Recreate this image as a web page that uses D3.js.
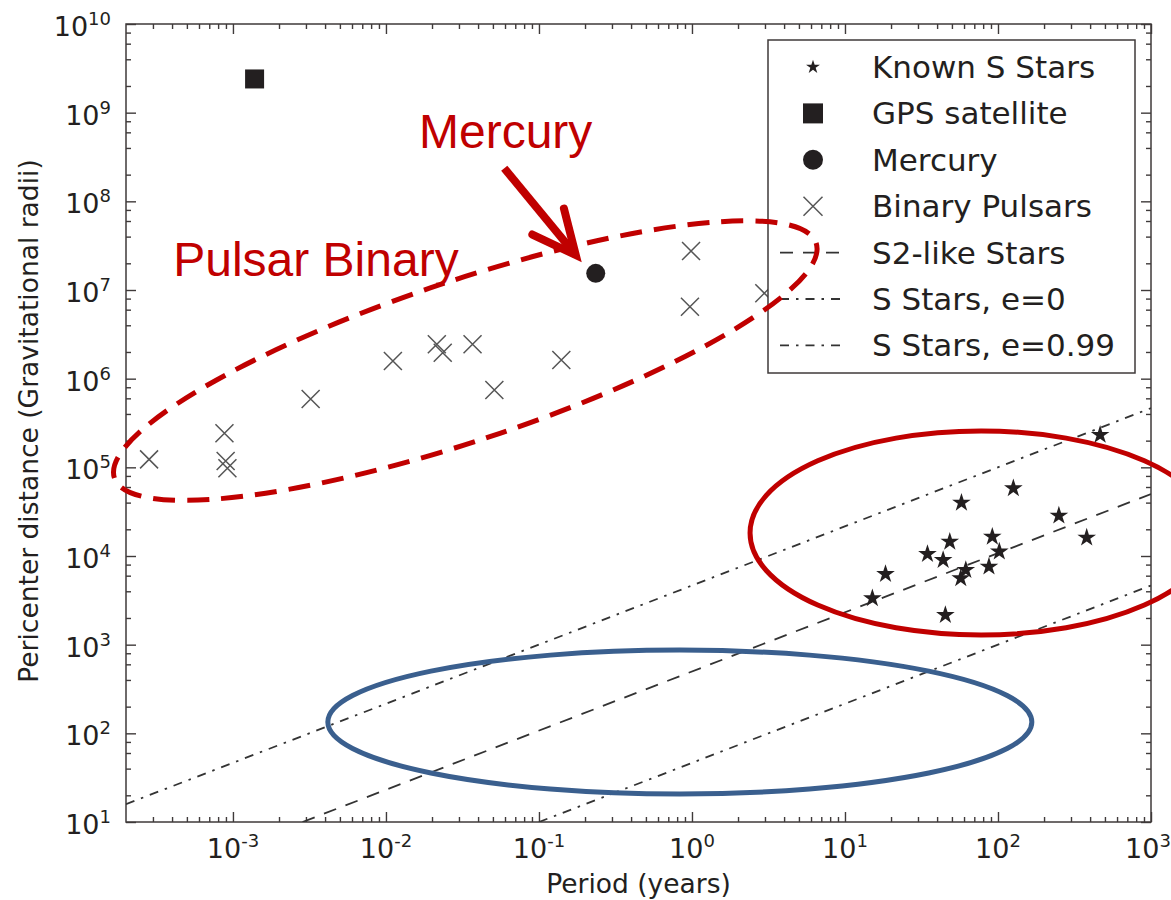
<!DOCTYPE html>
<html>
<head>
<meta charset="utf-8">
<script src="https://cdn.jsdelivr.net/npm/d3@7/dist/d3.min.js"></script>
<style>
  body { margin: 0; background: #fff; }
  svg { display: block; }
  text { font-family: 'DejaVu Sans', sans-serif; fill: #231f20; }
  text.note { font-family: 'Liberation Sans', Arial, sans-serif; fill: #c00000; }
</style>
</head>
<body>
<svg width="1171" height="900"></svg>
<script>
// period (years), pericenter distance (gravitational radii)
const sStars = [
  [465, 2.32e5], [126, 5.8e4], [57.7, 3.99e4], [250, 2.85e4], [380, 1.61e4],
  [91.8, 1.65e4], [48.4, 1.45e4], [34.6, 1.05e4], [102, 1.12e4], [43.8, 9.0e3],
  [61.6, 6.96e3], [87.3, 7.58e3], [57.1, 5.61e3], [18.4, 6.27e3], [15.1, 3.33e3],
  [45.3, 2.16e3],
];
const gpsSatellite = [[1.385e-3, 2.4e9]];
const mercury = [[0.235, 1.54e7]];
const binaryPulsars = [
  [2.83e-4, 1.23e5], [8.8e-4, 2.42e5], [8.96e-4, 1.18e5], [9.2e-4, 9.76e4],
  [3.22e-3, 5.9e5], [0.0111, 1.58e6], [0.0215, 2.44e6], [0.0235, 1.96e6],
  [0.0368, 2.44e6], [0.0511, 7.45e5], [0.140, 1.62e6], [0.986, 2.75e7],
  [0.97, 6.48e6], [2.97, 9.2e6],
];
// end points of the reference lines
const s2Line = [[2.85e-3, 10], [1000, 5.0e4]];
const circularLine = [[2e-4, 15.9], [1000, 4.65e5]];
const eccentricLine = [[0.1, 10], [1000, 4.65e3]];

const xTickExps = [-3, -2, -1, 0, 1, 2, 3];
const yTickExps = [1, 2, 3, 4, 5, 6, 7, 8, 9, 10];
const legendLabels = ['Known S Stars', 'GPS satellite', 'Mercury', 'Binary Pulsars',
  'S2-like Stars', 'S Stars, e=0', 'S Stars, e=0.99'];

// hand drawn highlights, anchored in data space
const pulsarOval = { centre: [0.033, 1.6e6], rx: 370, ry: 80, tilt: -18.5 };
const sStarOval = { centre: [77.5, 1.82e4], rx: 231, ry: 102, tilt: 0 };
const blueOval = { centre: [0.833, 134], rx: 352, ry: 72, tilt: 0 };
const mercuryArrow = [[0.0593, 2.36e8], [0.174, 2.48e7]];
const mercuryLabel = [0.01644, 4.0e8];
const pulsarLabel = [4.07e-4, 1.44e7];

const svg = d3.select('svg');
const plotL = 126, plotR = 1151, plotT = 24, plotB = 822;
const ink = '#3f3a3a';

const x = d3.scaleLog().domain([2e-4, 1e3]).range([plotL, plotR]);
const y = d3.scaleLog().domain([10, 1e10]).range([plotB, plotT]);

// tick values: all subs on x, even subs on y (matplotlib style)
const xMajor = xTickExps.map((e) => 10 ** e);
const xMinor = [];
for (let e = -4; e < 3; e++) {
  for (let m = 2; m <= 9; m++) {
    const v = m * 10 ** e;
    if (v > 2e-4 && v < 1e3) xMinor.push(v);
  }
}
const yMajor = yTickExps.map((e) => 10 ** e);
const yMinor = [];
for (let e = 1; e < 10; e++) {
  [2, 4, 6, 8].forEach((m) => yMinor.push(m * 10 ** e));
}

function tickAxis(axis, values, size, tx, ty) {
  const g = svg.append('g')
    .attr('transform', `translate(${tx},${ty})`)
    .call(axis.tickValues(values).tickSize(-size).tickSizeOuter(0).tickFormat(''));
  g.select('.domain').remove();
  g.selectAll('line').attr('stroke', ink).attr('stroke-width', 1.4);
}
tickAxis(d3.axisBottom(x), xMajor, 10, 0, plotB);
tickAxis(d3.axisBottom(x), xMinor, 5, 0, plotB);
tickAxis(d3.axisTop(x), xMajor, 10, 0, plotT);
tickAxis(d3.axisTop(x), xMinor, 5, 0, plotT);
tickAxis(d3.axisLeft(y), yMajor, 10, plotL, 0);
tickAxis(d3.axisLeft(y), yMinor, 5, plotL, 0);
tickAxis(d3.axisRight(y), yMajor, 10, plotR, 0);
tickAxis(d3.axisRight(y), yMinor, 5, plotR, 0);

svg.append('rect')
  .attr('x', plotL).attr('y', plotT)
  .attr('width', plotR - plotL).attr('height', plotB - plotT)
  .attr('fill', 'none').attr('stroke', ink).attr('stroke-width', 1.5);

// tick labels as 10^n
function powerLabel(sel, e) {
  sel.append('tspan').text('10');
  sel.append('tspan').attr('dy', -11).attr('font-size', 18).text(e);
}
xTickExps.forEach((e) => {
  svg.append('text')
    .attr('x', x(10 ** e) - (e === 3 ? 3 : 0)).attr('y', plotB + 36)
    .attr('text-anchor', 'middle').attr('font-size', 27)
    .call(powerLabel, e);
});
yTickExps.forEach((e) => {
  svg.append('text')
    .attr('x', plotL - 15).attr('y', y(10 ** e) + 12)
    .attr('text-anchor', 'end').attr('font-size', 27)
    .call(powerLabel, e);
});

svg.append('text')
  .attr('x', (plotL + plotR) / 2).attr('y', 893)
  .attr('text-anchor', 'middle').attr('font-size', 26.5)
  .text('Period (years)');
svg.append('text')
  .attr('transform', 'rotate(-90)')
  .attr('x', -(plotT + plotB) / 2 + 2).attr('y', 38)
  .attr('text-anchor', 'middle').attr('font-size', 26.5)
  .text('Pericenter distance (Gravitational radii)');

// reference lines
svg.append('clipPath').attr('id', 'plotArea')
  .append('rect')
  .attr('x', plotL).attr('y', plotT)
  .attr('width', plotR - plotL).attr('height', plotB - plotT);

const line = d3.line().x((d) => x(d[0])).y((d) => y(d[1]));
const dashS2 = '13,10';
const dashDot = '9,7,2.5,7';
[[s2Line, dashS2], [circularLine, dashDot], [eccentricLine, dashDot]].forEach(([pts, dash]) => {
  svg.append('path')
    .attr('d', line(pts))
    .attr('clip-path', 'url(#plotArea)')
    .attr('fill', 'none')
    .attr('stroke', '#333')
    .attr('stroke-width', 1.8)
    .attr('stroke-dasharray', dash);
});

// markers
const markerInk = '#231f20';
const star = d3.symbol(d3.symbolStar, 108);
svg.append('g').selectAll('path')
  .data(sStars)
  .enter()
  .append('path')
  .attr('d', star)
  .attr('transform', (d) => `translate(${x(d[0])},${y(d[1])})`)
  .attr('fill', markerInk);

svg.append('g').selectAll('rect')
  .data(gpsSatellite)
  .enter()
  .append('rect')
  .attr('x', (d) => x(d[0]) - 9.5)
  .attr('y', (d) => y(d[1]) - 9.5)
  .attr('width', 19).attr('height', 19)
  .attr('fill', markerInk);

svg.append('g').selectAll('circle')
  .data(mercury)
  .enter()
  .append('circle')
  .attr('cx', (d) => x(d[0]))
  .attr('cy', (d) => y(d[1]))
  .attr('r', 9.5)
  .attr('fill', markerInk);

const cross = (h) => `M${-h},${-h}L${h},${h}M${-h},${h}L${h},${-h}`;
svg.append('g').selectAll('path')
  .data(binaryPulsars)
  .enter()
  .append('path')
  .attr('d', cross(9))
  .attr('transform', (d) => `translate(${x(d[0])},${y(d[1])})`)
  .attr('fill', 'none')
  .attr('stroke', '#555')
  .attr('stroke-width', 1.5);

// legend
const legend = svg.append('g').attr('transform', 'translate(768,40)');
legend.append('rect')
  .attr('width', 367).attr('height', 333)
  .attr('fill', '#fff').attr('stroke', ink).attr('stroke-width', 1.5);

const rowY = (i) => 27 + i * 46.4;
const markX = 45;
legendLabels.forEach((label, i) => {
  legend.append('text')
    .attr('x', 104).attr('y', rowY(i) + 11)
    .attr('font-size', 31)
    .text(label);
});
legend.append('path')
  .attr('d', d3.symbol(d3.symbolStar, 60)())
  .attr('transform', `translate(${markX},${rowY(0)})`)
  .attr('fill', markerInk);
legend.append('rect')
  .attr('x', markX - 10).attr('y', rowY(1) - 10)
  .attr('width', 20).attr('height', 20)
  .attr('fill', markerInk);
legend.append('circle')
  .attr('cx', markX).attr('cy', rowY(2)).attr('r', 10)
  .attr('fill', markerInk);
legend.append('path')
  .attr('d', cross(9.5))
  .attr('transform', `translate(${markX},${rowY(3)})`)
  .attr('fill', 'none').attr('stroke', '#555').attr('stroke-width', 1.5);
[[4, dashS2], [5, dashDot], [6, dashDot]].forEach(([i, dash]) => {
  legend.append('line')
    .attr('x1', 12).attr('x2', 78)
    .attr('y1', rowY(i)).attr('y2', rowY(i))
    .attr('stroke', '#333').attr('stroke-width', 1.8)
    .attr('stroke-dasharray', dash);
});

// highlights drawn over everything
const red = '#c00000';
function oval(o, colour, dash) {
  const cx = x(o.centre[0]);
  const cy = y(o.centre[1]);
  svg.append('ellipse')
    .attr('cx', cx).attr('cy', cy)
    .attr('rx', o.rx).attr('ry', o.ry)
    .attr('transform', `rotate(${o.tilt},${cx},${cy})`)
    .attr('fill', 'none')
    .attr('stroke', colour)
    .attr('stroke-width', 5)
    .attr('stroke-dasharray', dash);
}
oval(pulsarOval, red, '22,12');
oval(sStarOval, red, null);
oval(blueOval, '#3a5f8e', null);

const [a0, a1] = mercuryArrow.map((d) => [x(d[0]), y(d[1])]);
const back = Math.atan2(a0[1] - a1[1], a0[0] - a1[0]);
const barb = (da) => [a1[0] + 48 * Math.cos(back + da), a1[1] + 48 * Math.sin(back + da)];
const b1 = barb(0.44);
const b2 = barb(-0.44);
svg.append('path')
  .attr('d', `M${a0}L${a1}`)
  .attr('stroke', red).attr('stroke-width', 8).attr('fill', 'none');
svg.append('path')
  .attr('d', `M${b1}L${a1}L${b2}`)
  .attr('stroke', red).attr('stroke-width', 8).attr('fill', 'none')
  .attr('stroke-linecap', 'round').attr('stroke-linejoin', 'miter');

svg.append('text').attr('class', 'note')
  .attr('x', x(mercuryLabel[0])).attr('y', y(mercuryLabel[1]))
  .attr('font-size', 48)
  .text('Mercury');
svg.append('text').attr('class', 'note')
  .attr('x', x(pulsarLabel[0])).attr('y', y(pulsarLabel[1]))
  .attr('font-size', 48)
  .text('Pulsar Binary');
</script>
</body>
</html>
